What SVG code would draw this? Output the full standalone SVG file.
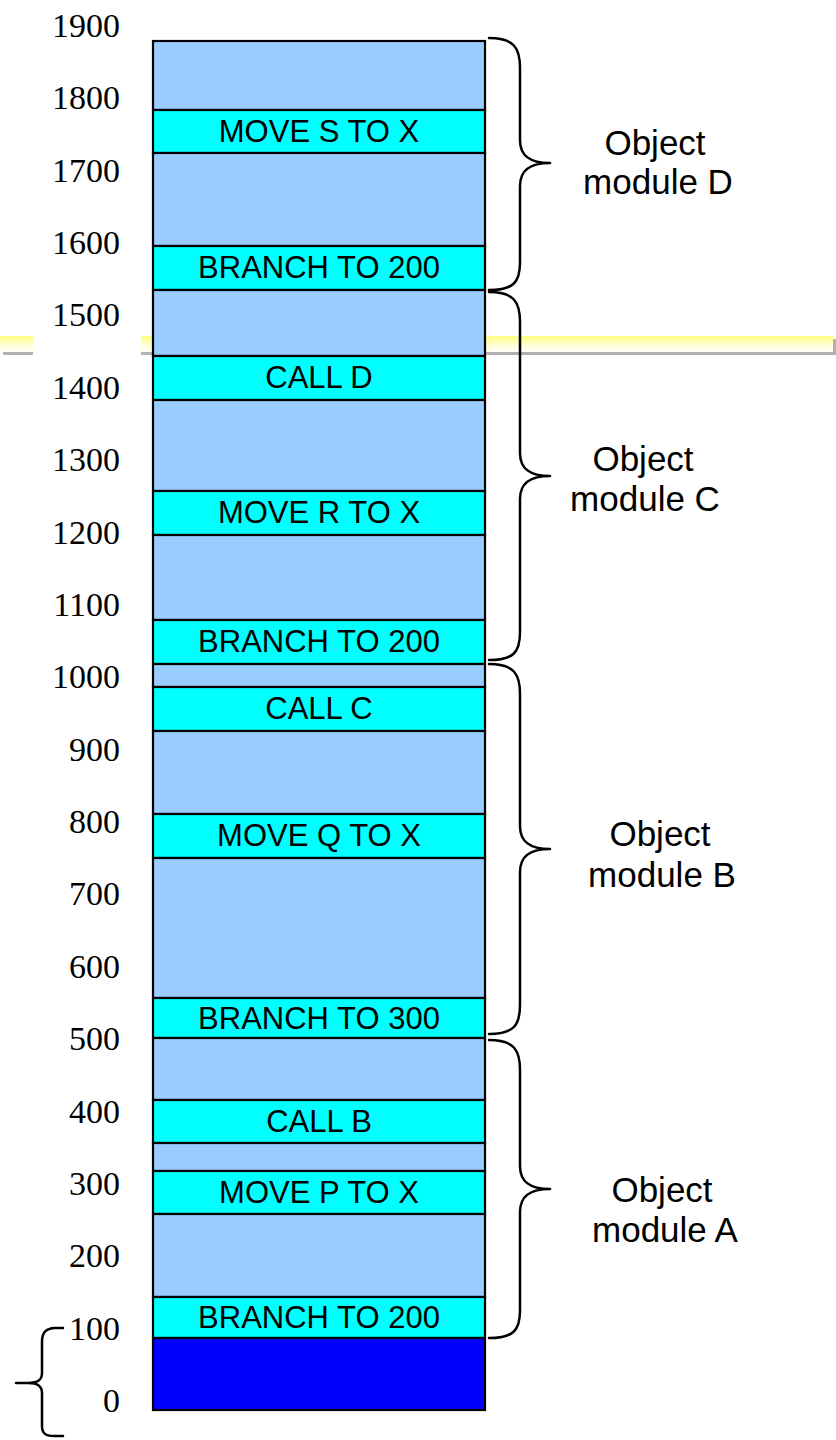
<svg xmlns="http://www.w3.org/2000/svg" width="836" height="1440" viewBox="0 0 836 1440">
  <defs>
    <linearGradient id="bandFill" x1="0" y1="0" x2="0" y2="1">
      <stop offset="0" stop-color="#FFFF80"/>
      <stop offset="0.6" stop-color="#FFFFD8"/>
      <stop offset="1" stop-color="#FFFFFA"/>
    </linearGradient>
    <style>
      .addr { font-family: "Liberation Serif", "Times New Roman", serif; font-size: 34px; fill: #000; text-anchor: end; }
      .seg  { stroke: #000; stroke-width: 2.2; }
      .free { fill: #99CCFF; }
      .instr { fill: #00FFFF; }
      .os   { fill: #0000FF; }
      .code { font-family: "Liberation Sans", Arial, sans-serif; font-size: 31px; fill: #000; text-anchor: middle; }
      .mod  { font-family: "Liberation Sans", Arial, sans-serif; font-size: 35px; fill: #000; text-anchor: middle; }
      .brace { fill: none; stroke: #000; stroke-width: 2.5; stroke-linecap: round; stroke-linejoin: round; }
    </style>
  </defs>

  <rect width="836" height="1440" fill="#FFFFFF"/>

  <!-- horizontal rule behind the memory column -->
  <g id="rule">
    <rect x="3" y="339" width="833" height="16" fill="#B2B2B2"/>
    <rect x="0" y="336" width="833" height="16" fill="url(#bandFill)"/>
    <rect x="33" y="300" width="108" height="60" fill="#FFFFFF"/>
  </g>

  <!-- address scale -->
  <g id="addresses">
    <text class="addr" x="120" y="37">1900</text>
    <text class="addr" x="120" y="109">1800</text>
    <text class="addr" x="120" y="182">1700</text>
    <text class="addr" x="120" y="254">1600</text>
    <text class="addr" x="120" y="326">1500</text>
    <text class="addr" x="120" y="399">1400</text>
    <text class="addr" x="120" y="471">1300</text>
    <text class="addr" x="120" y="544">1200</text>
    <text class="addr" x="120" y="616">1100</text>
    <text class="addr" x="120" y="688">1000</text>
    <text class="addr" x="120" y="761">900</text>
    <text class="addr" x="120" y="833">800</text>
    <text class="addr" x="120" y="905">700</text>
    <text class="addr" x="120" y="978">600</text>
    <text class="addr" x="120" y="1050">500</text>
    <text class="addr" x="120" y="1123">400</text>
    <text class="addr" x="120" y="1195">300</text>
    <text class="addr" x="120" y="1267">200</text>
    <text class="addr" x="120" y="1340">100</text>
    <text class="addr" x="120" y="1412">0</text>
  </g>

  <!-- memory column, top to bottom -->
  <g id="d-free-top"><rect class="seg free" x="153" y="41" width="332" height="69"/></g>
  <g id="d-move-s"><rect class="seg instr" x="153" y="110" width="332" height="43"/><text class="code" x="319" y="142">MOVE S TO X</text></g>
  <g id="d-free-mid"><rect class="seg free" x="153" y="153" width="332" height="93"/></g>
  <g id="d-branch"><rect class="seg instr" x="153" y="246" width="332" height="44"/><text class="code" x="319" y="278">BRANCH TO 200</text></g>
  <g id="c-free-top"><rect class="seg free" x="153" y="290" width="332" height="66"/></g>
  <g id="c-call-d"><rect class="seg instr" x="153" y="356" width="332" height="44"/><text class="code" x="319" y="388">CALL D</text></g>
  <g id="c-free-mid"><rect class="seg free" x="153" y="400" width="332" height="91"/></g>
  <g id="c-move-r"><rect class="seg instr" x="153" y="491" width="332" height="44"/><text class="code" x="319" y="523">MOVE R TO X</text></g>
  <g id="c-free-low"><rect class="seg free" x="153" y="535" width="332" height="85"/></g>
  <g id="c-branch"><rect class="seg instr" x="153" y="620" width="332" height="44"/><text class="code" x="319" y="652">BRANCH TO 200</text></g>
  <g id="b-free-top"><rect class="seg free" x="153" y="664" width="332" height="23"/></g>
  <g id="b-call-c"><rect class="seg instr" x="153" y="687" width="332" height="44"/><text class="code" x="319" y="719">CALL C</text></g>
  <g id="b-free-mid"><rect class="seg free" x="153" y="731" width="332" height="83"/></g>
  <g id="b-move-q"><rect class="seg instr" x="153" y="814" width="332" height="44"/><text class="code" x="319" y="846">MOVE Q TO X</text></g>
  <g id="b-free-low"><rect class="seg free" x="153" y="858" width="332" height="140"/></g>
  <g id="b-branch"><rect class="seg instr" x="153" y="998" width="332" height="40"/><text class="code" x="319" y="1029">BRANCH TO 300</text></g>
  <g id="a-free-top"><rect class="seg free" x="153" y="1038" width="332" height="62"/></g>
  <g id="a-call-b"><rect class="seg instr" x="153" y="1100" width="332" height="43"/><text class="code" x="319" y="1132">CALL B</text></g>
  <g id="a-free-mid"><rect class="seg free" x="153" y="1143" width="332" height="28"/></g>
  <g id="a-move-p"><rect class="seg instr" x="153" y="1171" width="332" height="43"/><text class="code" x="319" y="1203">MOVE P TO X</text></g>
  <g id="a-free-low"><rect class="seg free" x="153" y="1214" width="332" height="83"/></g>
  <g id="a-branch"><rect class="seg instr" x="153" y="1297" width="332" height="41"/><text class="code" x="319" y="1328">BRANCH TO 200</text></g>
  <g id="os-area"><rect class="seg os" x="153" y="1338" width="332" height="72"/></g>

  <!-- module braces -->
  <g id="braces">
    <path class="brace" d="M 489,38 C 514,38 520,48 520,68 L 520,140 C 520,156 530,163 550,163 C 530,163 520,170 520,186 L 520,262 C 520,282 514,290 489,290"/>
    <path class="brace" d="M 489,292 C 514,292 520,302 520,322 L 520,453 C 520,469 530,476 550,476 C 530,476 520,483 520,499 L 520,632 C 520,652 514,660 489,660"/>
    <path class="brace" d="M 489,664 C 514,664 520,674 520,694 L 520,826 C 520,842 530,849 550,849 C 530,849 520,856 520,872 L 520,1005 C 520,1025 514,1034 489,1034"/>
    <path class="brace" d="M 489,1040 C 514,1040 520,1050 520,1070 L 520,1166 C 520,1182 530,1189 550,1189 C 530,1189 520,1196 520,1212 L 520,1310 C 520,1330 514,1338 489,1338"/>
    <path class="brace" d="M 63,1328 L 54,1328 C 45,1329 42,1333 42,1342 L 42,1373 C 42,1380 38,1383 28,1383 L 16,1383 M 28,1383 C 38,1383 42,1386 42,1393 L 42,1426 C 42,1433 45,1436 54,1436 L 63,1436"/>
  </g>

  <!-- module captions -->
  <g id="module-d"><text class="mod" x="655" y="155">Object</text><text class="mod" x="658" y="194">module D</text></g>
  <g id="module-c"><text class="mod" x="643" y="471">Object</text><text class="mod" x="645" y="511">module C</text></g>
  <g id="module-b"><text class="mod" x="660" y="846">Object</text><text class="mod" x="662" y="887">module B</text></g>
  <g id="module-a"><text class="mod" x="662" y="1202">Object</text><text class="mod" x="665" y="1242">module A</text></g>
</svg>
